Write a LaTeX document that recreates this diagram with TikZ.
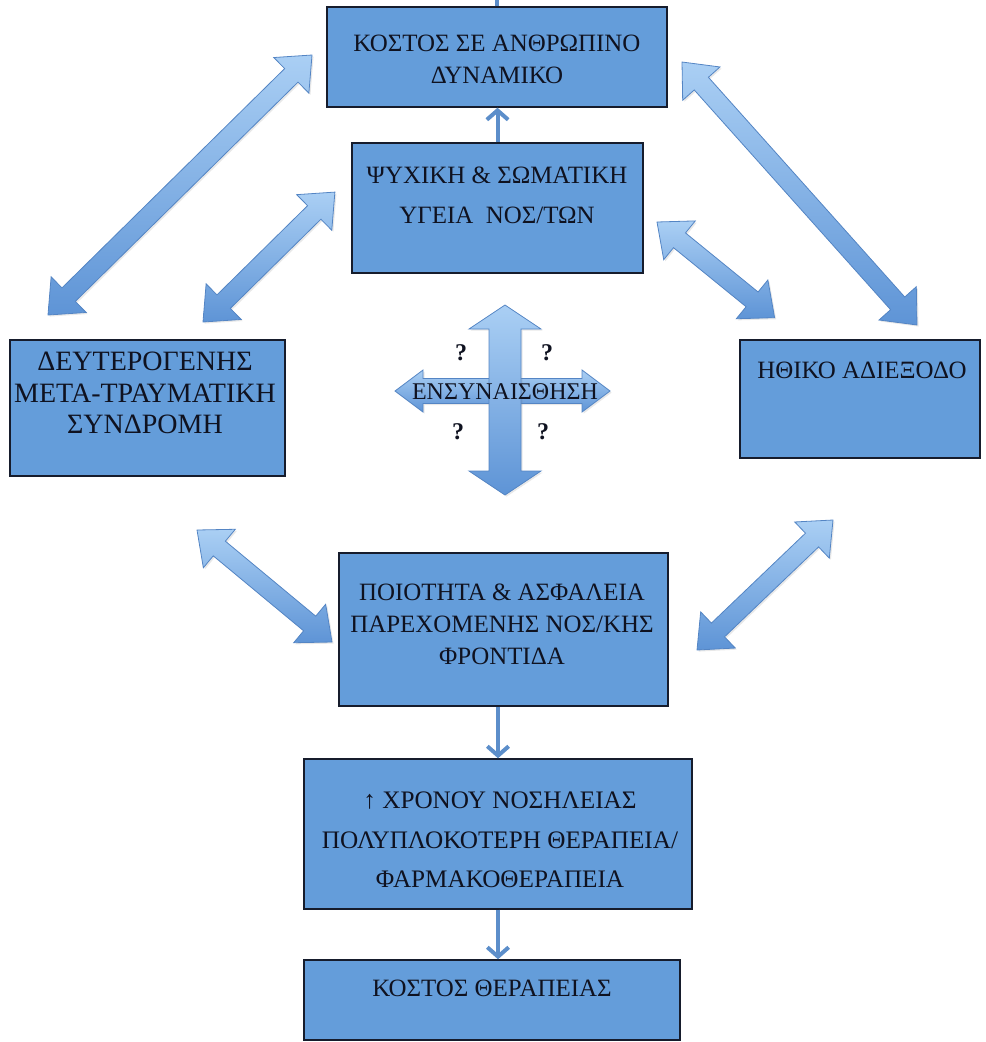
\documentclass[tikz,border=0pt]{standalone}
\usepackage{fontspec}
\setmainfont{Liberation Serif}
\usetikzlibrary{arrows.meta,shadows}

\definecolor{boxblue}{RGB}{100,157,218}
\definecolor{boxline}{RGB}{22,28,44}
\definecolor{arrowlight}{RGB}{170,207,244}
\definecolor{arrowdark}{RGB}{94,148,214}
\definecolor{arrowedge}{RGB}{84,133,196}
\definecolor{linkblue}{RGB}{92,142,202}
\definecolor{textnavy}{RGB}{15,18,32}

\newlength{\pxu}
\setlength{\pxu}{0.75pt}

% fat two-headed arrow between two named points:
% #1 from, #2 to, #3 shaft half width, #4 head half width, #5 head length (px)
\newcommand{\blockarrow}[5]{%
  \pgfpointdiff{\pgfpointanchor{#1}{center}}{\pgfpointanchor{#2}{center}}%
  \pgfgetlastxy{\bax}{\bay}%
  \pgfmathsetmacro{\balen}{veclen(\bax,\bay)/0.75}%
  \pgfmathsetmacro{\baang}{atan2(\bay,\bax)}%
  \begin{scope}[shift={(#1)}, rotate=\baang]
    \path[bigarrow] (0,0) -- (#5,#4) -- (#5,#3) -- (\balen-#5,#3) -- (\balen-#5,#4)
      -- (\balen,0) -- (\balen-#5,-#4) -- (\balen-#5,-#3) -- (#5,-#3) -- (#5,-#4) -- cycle;
  \end{scope}}

\tikzset{
  box/.style={draw=boxline, line width=1.1pt, fill=boxblue, inner sep=0pt},
  boxtext/.style={text=textnavy, align=center, inner sep=0pt,
    font=\fontsize{18.7}{24}\selectfont},
  bigarrow/.style={draw=arrowedge, line width=0.6pt, top color=arrowlight,
    bottom color=arrowdark,
    drop shadow={opacity=0.18, shadow xshift=1.2pt, shadow yshift=-1.2pt}},
  link/.style={draw=linkblue, line width=3pt,
    -{Straight Barb[length=7pt,width=16pt]}},
  qmark/.style={text=textnavy, inner sep=0pt, font=\fontsize{18}{20}\selectfont\bfseries}
}

\begin{document}
\begin{tikzpicture}[x=0.75pt, y=-0.75pt]
  \useasboundingbox (0,0) rectangle (985,1042);

  % Boxes
  \node[box, minimum width=340\pxu, minimum height=100\pxu] (kostos) at (497,57) {};
  \node[box, minimum width=291\pxu, minimum height=130\pxu] (ygeia) at (497.5,208) {};
  \node[box, minimum width=275\pxu, minimum height=136\pxu] (deut) at (147.5,408) {};
  \node[box, minimum width=240\pxu, minimum height=118\pxu] (ithiko) at (860,399) {};
  \node[box, minimum width=329\pxu, minimum height=153\pxu] (poiotita) at (503.5,629.5) {};
  \node[box, minimum width=388\pxu, minimum height=150\pxu] (xronos) at (498,834) {};
  \node[box, minimum width=376\pxu, minimum height=80\pxu] (therapeia) at (492,1000) {};

  % Texts
  \node[boxtext] (kostostxt) at (497,59) {ΚΟΣΤΟΣ ΣΕ ΑΝΘΡΩΠΙΝΟ\\ΔΥΝΑΜΙΚΟ};
  \node[boxtext, font=\fontsize{18.7}{30}\selectfont] (ygeiatxt) at (497,195)
    {ΨΥΧΙΚΗ \& ΣΩΜΑΤΙΚΗ\\ΥΓΕΙΑ\ \ ΝΟΣ/ΤΩΝ};
  \node[boxtext, font=\fontsize{21}{23.6}\selectfont] (deuttxt) at (145,393)
    {ΔΕΥΤΕΡΟΓΕΝΗΣ\\ΜΕΤΑ-ΤΡΑΥΜΑΤΙΚΗ\\ΣΥΝΔΡΟΜΗ};
  \node[boxtext, anchor=west] (ithikotxt) at (757,370) {ΗΘΙΚΟ ΑΔΙΕΞΟΔΟ};
  \node[boxtext] (poiotitatxt) at (502,624)
    {ΠΟΙΟΤΗΤΑ \& ΑΣΦΑΛΕΙΑ\\ΠΑΡΕΧΟΜΕΝΗΣ ΝΟΣ/ΚΗΣ\\ΦΡΟΝΤΙΔΑ};
  \node[boxtext, font=\fontsize{18.9}{29.5}\selectfont] (xronostxt) at (500,840)
    {↑ ΧΡΟΝΟΥ ΝΟΣΗΛΕΙΑΣ\\ΠΟΛΥΠΛΟΚΟΤΕΡΗ ΘΕΡΑΠΕΙΑ/\\ΦΑΡΜΑΚΟΘΕΡΑΠΕΙΑ};
  \node[boxtext] (therapeiatxt) at (492,988) {ΚΟΣΤΟΣ ΘΕΡΑΠΕΙΑΣ};

  % Thin links
  \coordinate (topedge) at (497,0);
  \draw[link, -] (kostos.north) -- (topedge);
  \draw[link] (ygeia.north) -- (ygeia.north |- kostos.south);
  \draw[link] (xronos.north |- poiotita.south) -- (xronos.north);
  \draw[link] (xronos.south) -- (xronos.south |- therapeia.north);

  % Fat two-headed arrows
  \coordinate (dk1) at (48,315);  \coordinate (dk2) at (312,55);
  \coordinate (dy1) at (203,322); \coordinate (dy2) at (335,192);
  \coordinate (ik1) at (682,62);  \coordinate (ik2) at (917,325);
  \coordinate (iy1) at (657,222); \coordinate (iy2) at (775,318);
  \coordinate (dp1) at (197,530); \coordinate (dp2) at (332,642);
  \coordinate (ip1) at (697,650); \coordinate (ip2) at (833,520);
  \blockarrow{dk1}{dk2}{9.5}{25}{29}
  \blockarrow{dy1}{dy2}{9.5}{25}{29}
  \blockarrow{ik1}{ik2}{9.5}{25}{29}
  \blockarrow{iy1}{iy2}{9.5}{25}{29}
  \blockarrow{dp1}{dp2}{9.5}{25}{29}
  \blockarrow{ip1}{ip2}{9.5}{25}{29}

  % Empathy cross
  \coordinate (eh1) at (395,391); \coordinate (eh2) at (610,391);
  \coordinate (ev1) at (505,305); \coordinate (ev2) at (505,495);
  \blockarrow{eh1}{eh2}{12.5}{21}{28}
  \blockarrow{ev1}{ev2}{16}{36}{24}
  \node[boxtext, font=\fontsize{18}{20}\selectfont] (empathy) at (505,392) {ΕΝΣΥΝΑΙΣΘΗΣΗ};

  \node[qmark] (q1) at (461,353) {?};
  \node[qmark] (q2) at (547,353) {?};
  \node[qmark] (q3) at (458,432) {?};
  \node[qmark] (q4) at (543,432) {?};
\end{tikzpicture}
\end{document}
